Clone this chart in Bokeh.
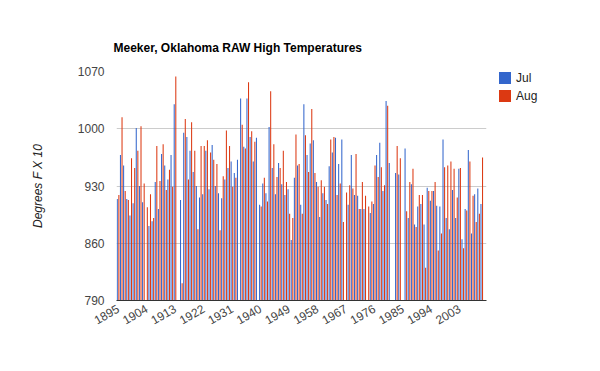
from math import pi
from bokeh.plotting import figure
from bokeh.models import ColumnDataSource, Range1d, FixedTicker, Legend, LegendItem
from bokeh.embed import file_html
from bokeh.resources import INLINE

years = list(range(1895, 2012))
jul = [914, 968, 955, 914, 894, 909, 1001, 930, 910, None,
       881, 887, 935, 902, 969, 955, 938, 968, 1030, None,
       913, 995, 990, 973, 947, 930, 916, 920, 973, 926,
       980, 930, 921, 915, 938, 952, 960, 946, 962, 1037,
       978, 1037, 990, 960, 989, 907, 933, 921, 1002, 952,
       920, 958, 932, 919, 926, 864, 940, 955, 907, 1030,
       968, 982, 986, 935, 892, 921, 913, 954, 971, 989,
       957, 987, None, 907, 968, 919, 918, 902, 902, None,
       897, 908, 968, 983, 924, 1034, 958, None, 946, 944,
       None, 976, 891, 932, 883, 905, 908, 883, 928, 912,
       924, 906, 905, 987, 891, 877, 925, 891, 951, 865,
       902, 974, 872, 920, 927, 908, None]
aug = [919, 1014, 924, 913, 964, 952, 973, 1003, 933, 904,
       920, 891, 979, 936, 981, 925, 950, 929, 1064, None,
       811, 1012, 938, 1008, 973, 877, 979, 979, 986, 971,
       962, 957, 876, 942, 998, 979, 929, 940, None, 1005,
       976, 1057, 997, 984, None, 905, 940, 911, 1046, 981,
       941, 952, 973, 935, 896, 891, 993, 957, 896, 992,
       947, 1024, 946, 929, 937, 929, 908, 987, 990, 919,
       933, 886, 922, 931, 927, 969, 902, 935, 918, 905,
       911, 955, 941, 953, 931, 1028, None, None, 979, 964,
       None, 899, 935, 951, 880, 919, 919, 830, 924, 924,
       935, 851, 872, 953, 955, 960, 951, 916, 952, 854,
       900, 960, 918, 886, 896, 965, None]
y_ticks = [790, 860, 930, 1000, 1070]
x_ticks = [1895, 1904, 1913, 1922, 1931, 1940, 1949, 1958, 1967, 1976, 1985, 1994, 2003]

BLUE = "#3366cc"
RED = "#dc3912"
FONT = "Liberation Sans"

def src(vals, off):
    xs = [y + off for y, v in zip(years, vals) if v is not None]
    ts = [v for v in vals if v is not None]
    return ColumnDataSource(dict(x=xs, top=ts))

p = figure(width=584, height=355, output_backend="svg", toolbar_location=None,
           x_range=Range1d(1894.5, 2011.5), y_range=Range1d(790, 1070),
           min_border_left=116, min_border_right=98, min_border_top=71,
           min_border_bottom=55, title="Meeker, Oklahoma RAW High Temperatures")
p.frame_width = 370
p.frame_height = 229
p.outline_line_color = None
p.title.text_font = FONT
p.title.text_font_size = "12px"
p.title.text_font_style = "bold"
p.title.text_color = "#000000"
p.title.align = "left"
p.title.offset = -3
p.title.standoff = 33

r1 = p.vbar(x="x", top="top", bottom=790, width=0.33, source=src(jul, -0.25),
            fill_color=BLUE, line_color=None)
r2 = p.vbar(x="x", top="top", bottom=790, width=0.33, source=src(aug, 0.25),
            fill_color=RED, line_color=None)

p.xgrid.visible = False
p.ygrid.ticker = FixedTicker(ticks=y_ticks)
p.ygrid.grid_line_color = "#cccccc"

p.yaxis.ticker = FixedTicker(ticks=y_ticks)
p.yaxis.axis_line_color = None
p.yaxis.major_tick_line_color = None
p.yaxis.minor_tick_line_color = None
p.yaxis.major_tick_out = 0
p.yaxis.major_tick_in = 0
p.yaxis.major_label_standoff = 12
p.yaxis.major_label_text_font = FONT
p.yaxis.major_label_text_font_size = "12px"
p.yaxis.major_label_text_color = "#444444"
p.yaxis.axis_label = "Degrees F X 10"
p.yaxis.axis_label_text_font = FONT
p.yaxis.axis_label_text_font_size = "12px"
p.yaxis.axis_label_text_font_style = "italic"
p.yaxis.axis_label_text_color = "#222222"
p.yaxis.axis_label_standoff = 30

p.xaxis.ticker = FixedTicker(ticks=x_ticks)
p.xaxis.axis_line_color = "#333333"
p.xaxis.major_tick_line_color = None
p.xaxis.minor_tick_line_color = None
p.xaxis.major_tick_out = 0
p.xaxis.major_tick_in = 0
p.xaxis.major_label_orientation = pi / 6
p.xaxis.major_label_standoff = 7
p.xaxis.major_label_text_font = FONT
p.xaxis.major_label_text_font_size = "12px"
p.xaxis.major_label_text_color = "#444444"

legend = Legend(items=[LegendItem(label="Jul", renderers=[r1]),
                       LegendItem(label="Aug", renderers=[r2])],
                location=(11, 197), glyph_width=15, glyph_height=15,
                label_height=15, spacing=3, padding=0, margin=0,
                border_line_color=None, background_fill_alpha=0,
                label_text_font=FONT, label_text_font_size="12px",
                label_text_color="#222222", label_standoff=4)
p.add_layout(legend, "right")

open("out.html", "w").write(file_html(p, INLINE))
